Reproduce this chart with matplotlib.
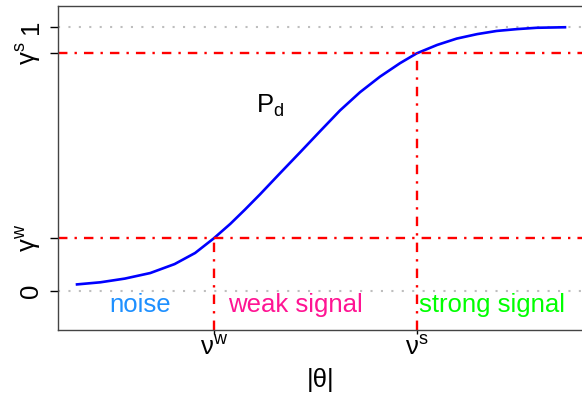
import matplotlib
matplotlib.use("Agg")
import matplotlib.pyplot as plt

plt.rcParams["font.family"] = "Liberation Sans"
plt.rcParams["mathtext.fontset"] = "custom"
plt.rcParams["mathtext.rm"] = "Liberation Sans"
plt.rcParams["mathtext.it"] = "Liberation Sans:italic"
plt.rcParams["mathtext.bf"] = "Liberation Sans:bold"

# detection probability curve
theta = [0.0, 0.24, 0.49, 0.75, 1.0, 1.21, 1.40, 1.57, 1.72, 1.875, 2.08, 2.285,
         2.49, 2.695, 2.90, 3.105, 3.31, 3.48, 3.69, 3.89, 4.10, 4.30, 4.51,
         4.71, 5.0]
pd_vals = [0.025, 0.033, 0.047, 0.068, 0.102, 0.144, 0.199, 0.254, 0.308, 0.366,
           0.446, 0.525, 0.605, 0.684, 0.753, 0.812, 0.863, 0.900, 0.932, 0.956,
           0.973, 0.985, 0.992, 0.997, 0.999]

# thresholds
nu_w, nu_s = 1.40, 3.48
gamma_w, gamma_s = 0.2, 0.9

ytick_pos = [0, gamma_w, gamma_s, 1]
ytick_labels = ["0", r"$\mathrm{γ^w}$", r"$\mathrm{γ^s}$", "1"]
xtick_pos = [nu_w, nu_s]
xtick_labels = [r"$\mathrm{ν^w}$", r"$\mathrm{ν^s}$"]

region_names = ["noise", "weak signal", "strong signal"]
region_x = [0.645, 2.24, 3.50]
region_ha = ["center", "center", "left"]
region_colors = ["#1E90FF", "#FF1493", "#00FF00"]

fig = plt.figure(figsize=(5.82, 3.98), dpi=100)
ax = fig.add_axes([57.5 / 582, 1 - 330 / 398, 527 / 582, 324 / 398])
ax.set_xlim(-0.2, 5.2)
ax.set_ylim(-0.1477, 1.0795)

dots = (0, (1, 4))
dotdash = (0, (4, 3, 1, 3))

ax.axhline(0, color="#BEBEBE", lw=1.5, ls=dots)
ax.axhline(1, color="#BEBEBE", lw=1.5, ls=dots)

ax.plot(theta, pd_vals, color="#0000FF", lw=1.9, solid_joinstyle="round")

ax.axhline(gamma_s, color="#FF0000", lw=1.7, ls=dotdash)
ax.axhline(gamma_w, color="#FF0000", lw=1.7, ls=dotdash)
ax.vlines([nu_w, nu_s], -0.1477, [gamma_w, gamma_s], color="#FF0000", lw=1.7, ls=dotdash)

ax.text(1.98, 0.70, r"$\mathrm{P_d}$", fontsize=18.5, ha="center", va="center")

for name, x, ha, c in zip(region_names, region_x, region_ha, region_colors):
    ax.text(x, -0.08, name, color=c, fontsize=18.5, ha=ha, va="baseline")

ax.set_yticks(ytick_pos)
ax.set_yticklabels(ytick_labels, rotation=90, va="center", fontsize=18.5)
ax.set_xticks(xtick_pos)
ax.set_xticklabels(xtick_labels, fontsize=18.5)
ax.tick_params(axis="y", length=6, width=1, pad=4.5)
ax.tick_params(axis="x", length=3, width=1, pad=1)
ax.set_xlabel("|θ|", fontsize=18.5, labelpad=6)

for side in ["top", "left", "bottom", "right"]:
    ax.spines[side].set_color("#444444")
    ax.spines[side].set_linewidth(1.0)

fig.savefig("out.png", dpi=100)
